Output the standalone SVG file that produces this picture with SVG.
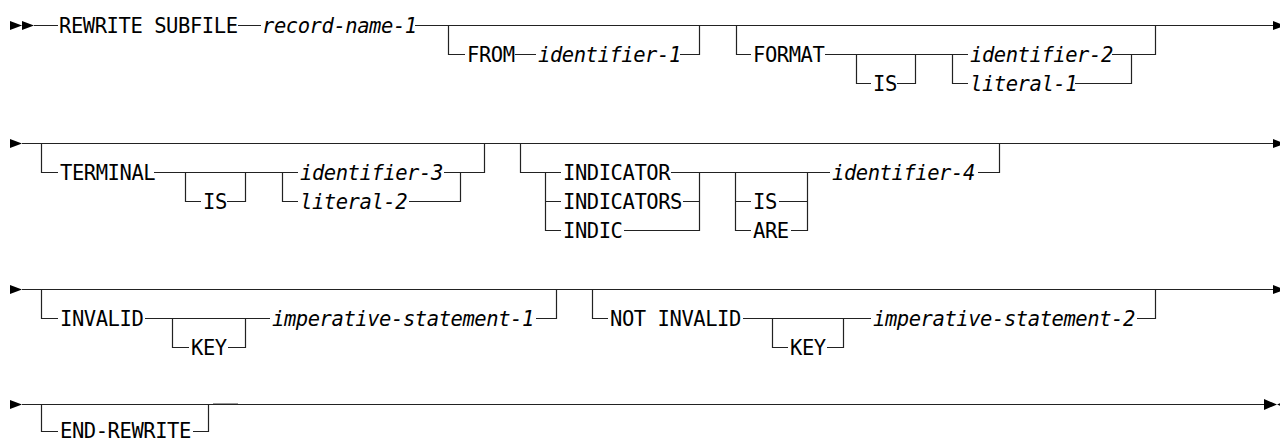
<svg xmlns="http://www.w3.org/2000/svg" width="1280" height="443" viewBox="0 0 1280 443">
<style>
.c{fill:none;stroke:#222;stroke-width:1.2}
.t{font-family:"DejaVu Sans Mono","Liberation Mono",monospace;font-size:20.5px;letter-spacing:-0.44px;fill:#000}
.v{font-style:italic}
.a{fill:#000;stroke:none}
</style>
<rect width="1280" height="443" fill="#fff"/>
<g id="connectors">
<!-- row 1 -->
<path class="c" d="M34,25.5 H58 M238,25.5 H261 M415,25.5 H1274"/>
<path class="c" d="M448.5,25.5 V54.5 H465 M515,54.5 H536 M680,54.5 H699.5 V25.5"/>
<path class="c" d="M736.5,25.5 V54.5 H751 M825,54.5 H968 M1112,54.5 H1155.5 V25.5"/>
<path class="c" d="M856.5,54.5 V83.5 H871 M897,83.5 H915.5 V54.5"/>
<path class="c" d="M952.5,54.5 V83.5 H968 M1075,83.5 H1131.5 V54.5"/>
<!-- row 2 -->
<path class="c" d="M22,143.5 H1274"/>
<path class="c" d="M41.5,143.5 V172.5 H58 M154,172.5 H298 M444,172.5 H484.5 V143.5"/>
<path class="c" d="M185.5,172.5 V201.5 H201 M227,201.5 H245.5 V172.5"/>
<path class="c" d="M282.5,172.5 V201.5 H298 M409,201.5 H460.5 V172.5"/>
<path class="c" d="M520.5,143.5 V172.5 H561 M671,172.5 H830 M545.5,172.5 V230.5 H561 M545.5,201.5 H561 M683,201.5 H699.5 M624,230.5 H699.5 V172.5"/>
<path class="c" d="M735.5,172.5 V230.5 H751 M735.5,201.5 H751 M779,201.5 H807.5 M791,230.5 H807.5 V172.5"/>
<path class="c" d="M978,172.5 H999.5 V143.5"/>
<!-- row 3 -->
<path class="c" d="M22,289.5 H1274"/>
<path class="c" d="M41.5,289.5 V318.5 H58 M145,318.5 H270 M536,318.5 H556.5 V289.5"/>
<path class="c" d="M172.5,318.5 V347.5 H189 M228,347.5 H245.5 V318.5"/>
<path class="c" d="M592.5,289.5 V318.5 H608 M743,318.5 H871 M1137,318.5 H1155.5 V289.5"/>
<path class="c" d="M772.5,318.5 V347.5 H788 M827,347.5 H843.5 V318.5"/>
<!-- row 4 -->
<path class="c" d="M22,404.5 H1264"/>
<path class="c" d="M41.5,404.5 V431.5 H58 M193,431.5 H208.5 V404.5"/>
<path d="M213,403.5 H238" stroke="#999" stroke-width="1" fill="none"/>
<!-- arrowheads -->
<path class="a" d="M10,21 L22,25.5 L10,30 Z M22,21 L34,25.5 L22,30 Z"/>
<path class="a" d="M1273,21 L1285,25.5 L1273,30 Z"/>
<path class="a" d="M10,139 L22,143.5 L10,148 Z M1273,139 L1285,143.5 L1273,148 Z"/>
<path class="a" d="M10,285 L22,289.5 L10,294 Z M1273,285 L1285,289.5 L1273,294 Z"/>
<path class="a" d="M10,400 L22,404.5 L10,409 Z M1264,399 L1277,404.5 L1264,410 Z M1289,399.5 L1277,404.5 L1289,409.5 Z"/>
</g>
<g id="n-rewrite"><text class="t" x="59" y="33">REWRITE SUBFILE</text></g>
<g id="n-record-name-1"><text class="t v" x="262" y="33">record-name-1</text></g>
<g id="n-from"><text class="t" x="467" y="62">FROM</text></g>
<g id="n-identifier-1"><text class="t v" x="538" y="62">identifier-1</text></g>
<g id="n-format"><text class="t" x="753" y="62">FORMAT</text></g>
<g id="n-is-1"><text class="t" x="873" y="91">IS</text></g>
<g id="n-identifier-2"><text class="t v" x="970" y="62">identifier-2</text></g>
<g id="n-literal-1"><text class="t v" x="970" y="91">literal-1</text></g>
<g id="n-terminal"><text class="t" x="60" y="180">TERMINAL</text></g>
<g id="n-is-2"><text class="t" x="203" y="209">IS</text></g>
<g id="n-identifier-3"><text class="t v" x="300" y="180">identifier-3</text></g>
<g id="n-literal-2"><text class="t v" x="300" y="209">literal-2</text></g>
<g id="n-indicator"><text class="t" x="563" y="180">INDICATOR</text></g>
<g id="n-indicators"><text class="t" x="563" y="209">INDICATORS</text></g>
<g id="n-indic"><text class="t" x="563" y="238">INDIC</text></g>
<g id="n-is-3"><text class="t" x="753" y="209">IS</text></g>
<g id="n-are"><text class="t" x="753" y="238">ARE</text></g>
<g id="n-identifier-4"><text class="t v" x="832" y="180">identifier-4</text></g>
<g id="n-invalid"><text class="t" x="60" y="326">INVALID</text></g>
<g id="n-key-1"><text class="t" x="191" y="355">KEY</text></g>
<g id="n-imperative-1"><text class="t v" x="272" y="326">imperative-statement-1</text></g>
<g id="n-not-invalid"><text class="t" x="610" y="326">NOT INVALID</text></g>
<g id="n-key-2"><text class="t" x="790" y="355">KEY</text></g>
<g id="n-imperative-2"><text class="t v" x="873" y="326">imperative-statement-2</text></g>
<g id="n-end-rewrite"><text class="t" x="60" y="438">END-REWRITE</text></g>
</svg>
